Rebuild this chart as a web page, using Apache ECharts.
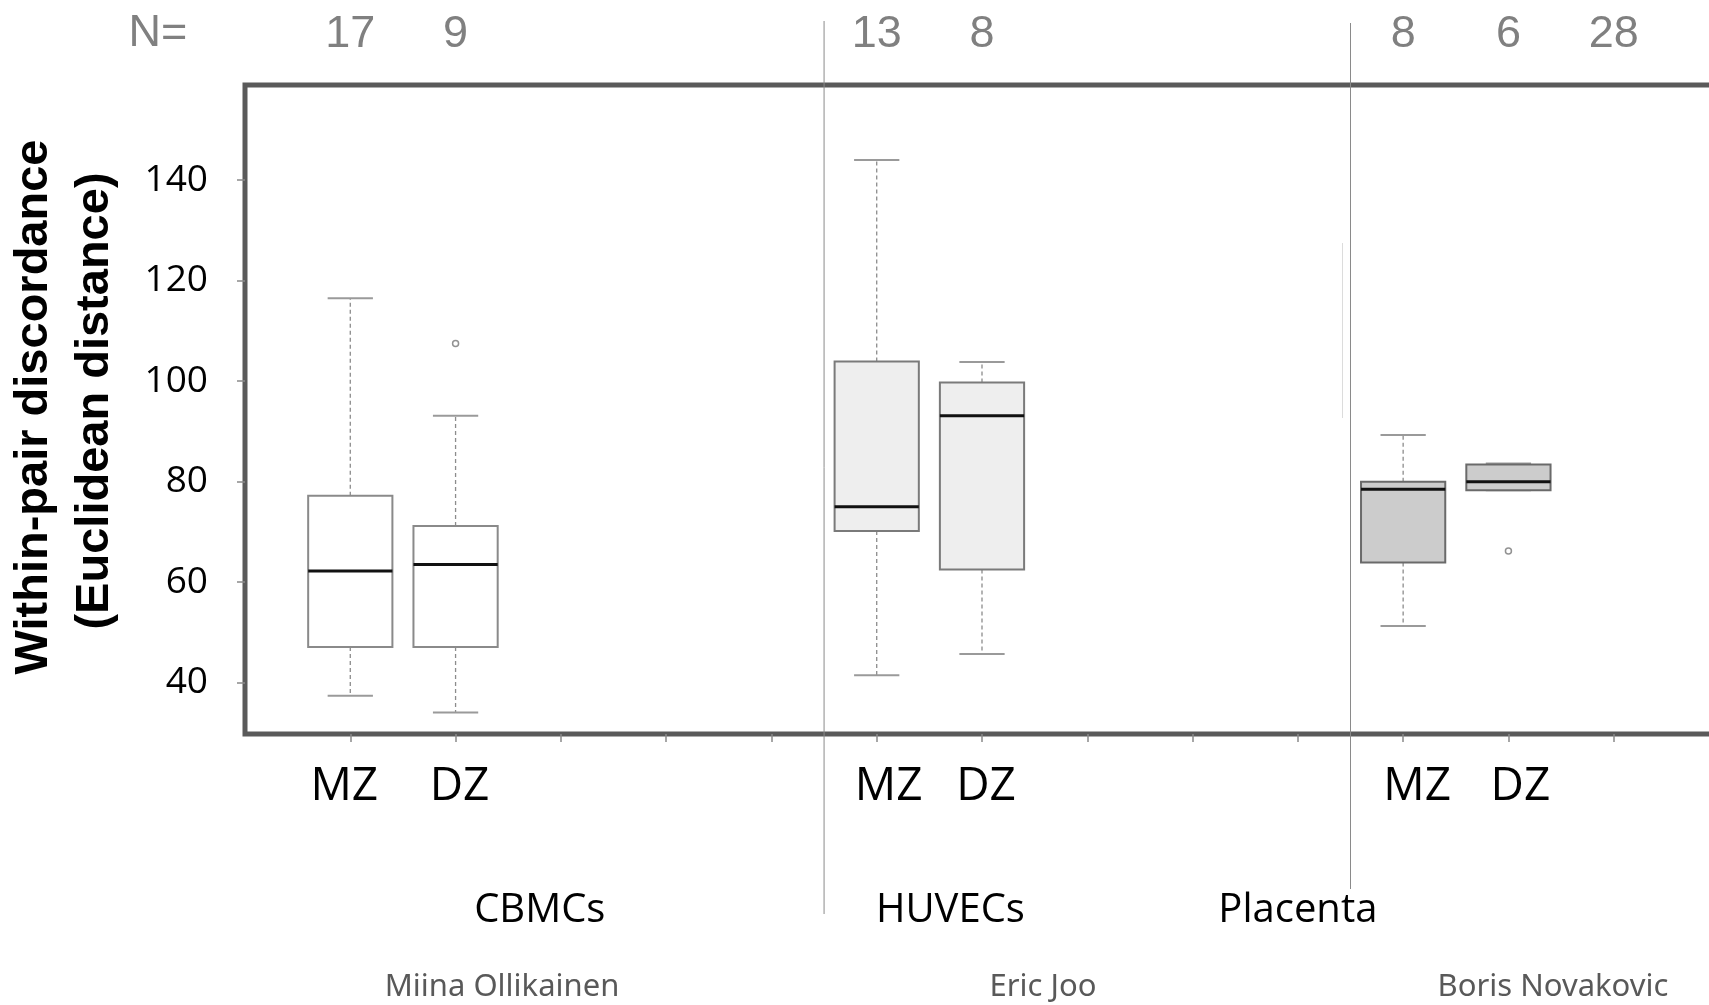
<!DOCTYPE html>
<html><head><meta charset="utf-8">
<script src="https://cdn.jsdelivr.net/npm/echarts@6/dist/echarts.min.js"></script>
<style>html,body{margin:0;padding:0;background:#fff}#c{width:1709px;height:1005px}</style>
</head><body><div id="c"></div>
<script>
// ---------- data ----------
const categories = ['', 'MZ', 'DZ', '', '', '', 'MZ', 'DZ', '', '', '', 'MZ', 'DZ', '', ''];
const nCounts    = ['', '17', '9', '', '', '', '13', '8', '', '', '', '8', '6', '28', ''];
const boxPositions = [1, 2, 6, 7, 11, 12];
const boxGroup     = [0, 0, 1, 1, 2, 2];
const boxMin    = [37.4, 34.1, 41.5, 45.7, 51.3, 78.3];
const boxQ1     = [47.1, 47.1, 70.2, 62.5, 63.9, 78.3];
const boxMedian = [62.2, 63.5, 75.0, 93.1, 78.5, 80.0];
const boxQ3     = [77.2, 71.2, 103.9, 99.7, 80.0, 83.4];
const boxMax    = [116.5, 93.1, 144.0, 103.8, 89.3, 83.6];
const outlierPositions = [2, 12];
const outlierValues    = [107.5, 66.2];
const yTicks = [40, 60, 80, 100, 120, 140];
const groupNames = ['CBMCs', 'HUVECs', 'Placenta'];
const authorNames = ['Miina Ollikainen', 'Eric Joo', 'Boris Novakovic'];
const yTitleLines = ['Within-pair discordance', '(Euclidean distance)'];
const nLabel = 'N=';

// ---------- styles ----------
const groupFill   = ['#ffffff', '#eeeeee', '#cccccc'];
const groupStroke = ['#8a8a8a', '#7a7a7a', '#6a6a6a'];
const labelShift = {1: -6, 2: 4, 6: 12, 7: 4, 11: 14, 12: 12};

const boxData = boxPositions.map((p, i) => [p, boxMin[i], boxQ1[i], boxMedian[i], boxQ3[i], boxMax[i]]);
const outlierData = outlierPositions.map((p, i) => [p, outlierValues[i]]);

const richBottom = {};
Object.keys(labelShift).forEach(k => {
  const s = labelShift[k];
  richBottom['o' + k] = {
    fontFamily: 'Open Sans', fontSize: 46, color: '#000',
    padding: s >= 0 ? [0, 0, 0, 2 * s] : [0, -2 * s, 0, 0]
  };
});

const chart = echarts.init(document.getElementById('c'), null, {renderer: 'canvas'});
const option = {
  animation: false,
  backgroundColor: '#ffffff',
  grid: {
    left: 245, top: 85, width: 1474, bottom: 271,
    outerBoundsMode: 'none', containLabel: false,
    show: true, borderColor: '#5a5a5a', borderWidth: 5, backgroundColor: 'transparent'
  },
  xAxis: [{
    type: 'category', data: categories, boundaryGap: false, position: 'bottom',
    axisLine: {show: false},
    axisTick: {show: true, length: 8, inside: false, interval: (idx) => idx > 0 && idx < categories.length - 1,
               lineStyle: {color: '#8a8a8a', width: 1.5}},
    axisLabel: {
      interval: 0, margin: 30,
      formatter: (v, idx) => v ? '{o' + idx + '|' + v + '}' : '',
      rich: richBottom
    },
    splitLine: {show: false}
  }, {
    type: 'category', data: nCounts, boundaryGap: false, position: 'top',
    axisLine: {show: false}, axisTick: {show: false},
    axisLabel: {interval: 0, margin: 28, fontFamily: 'Liberation Sans', fontSize: 45, color: '#808080'},
    splitLine: {show: false}
  }],
  yAxis: {
    type: 'value', min: 29.8, max: 158.9,
    axisLine: {show: false},
    splitLine: {show: false},
    axisTick: {show: true, length: 8, customValues: yTicks, lineStyle: {color: '#8a8a8a', width: 1.5}},
    axisLabel: {customValues: yTicks, margin: 37, fontFamily: 'Open Sans', fontSize: 37, color: '#000'}
  },
  series: [{
    type: 'custom',
    name: 'boxes',
    clip: false,
    data: boxData,
    encode: {x: 0, y: [1, 2, 3, 4, 5]},
    renderItem: function (params, api) {
      const i = params.dataIndex;
      const x = api.value(0);
      const pMin = api.coord([x, api.value(1)]);
      const pQ1 = api.coord([x, api.value(2)]);
      const pMed = api.coord([x, api.value(3)]);
      const pQ3 = api.coord([x, api.value(4)]);
      const pMax = api.coord([x, api.value(5)]);
      const band = api.coord([x + 1, api.value(1)])[0] - pMin[0];
      const bw = band * 0.8, cw = band * 0.43;
      const cx = pMin[0];
      const g = boxGroup[i];
      const dash = {stroke: '#8c8c8c', lineWidth: 1.3, lineDash: [4, 3]};
      const cap = {stroke: '#9a9a9a', lineWidth: 2};
      return {type: 'group', children: [
        {type: 'line', shape: {x1: cx, y1: pQ3[1], x2: cx, y2: pMax[1]}, style: dash},
        {type: 'line', shape: {x1: cx, y1: pQ1[1], x2: cx, y2: pMin[1]}, style: dash},
        {type: 'line', shape: {x1: cx - cw / 2, y1: pMax[1], x2: cx + cw / 2, y2: pMax[1]}, style: cap},
        {type: 'line', shape: {x1: cx - cw / 2, y1: pMin[1], x2: cx + cw / 2, y2: pMin[1]}, style: cap},
        {type: 'rect', shape: {x: cx - bw / 2, y: pQ3[1], width: bw, height: pQ1[1] - pQ3[1]},
         style: {fill: groupFill[g], stroke: groupStroke[g], lineWidth: 2}},
        {type: 'line', shape: {x1: cx - bw / 2, y1: pMed[1], x2: cx + bw / 2, y2: pMed[1]},
         style: {stroke: '#111111', lineWidth: 3}}
      ]};
    }
  }, {
    type: 'scatter',
    name: 'outliers',
    data: outlierData,
    symbol: 'circle', symbolSize: 6,
    itemStyle: {color: '#ffffff', borderColor: '#777777', borderWidth: 1.5}
  }]
};
chart.setOption(option);

const px = i => chart.convertToPixel({xAxisIndex: 0}, i);
const pxf = f => { const a = Math.floor(f); return px(a) + (f - a) * (px(a + 1) - px(a)); };
const sep1 = pxf(5.5);
const sep2 = pxf(10.5);
const groupX = [pxf(2.8), pxf(6.7), pxf(10.0)];
const authorX = [502, 1043, 1553];

const elems = [
  {type: 'line', z: 100, shape: {x1: sep1, y1: 21, x2: sep1, y2: 914}, style: {stroke: '#8a8a8a', lineWidth: 1}},
  {type: 'line', z: 100, shape: {x1: sep2, y1: 23, x2: sep2, y2: 889}, style: {stroke: '#8a8a8a', lineWidth: 1}},
  {type: 'line', z: 100, shape: {x1: sep2 - 8, y1: 243, x2: sep2 - 8, y2: 418}, style: {stroke: '#dcdcdc', lineWidth: 1}},
  {type: 'text', x: 158, y: 34, style: {text: nLabel, font: '45px "Liberation Sans"', fill: '#808080', align: 'center', verticalAlign: 'middle'}},
  {type: 'text', x: 34, y: 407, rotation: Math.PI / 2,
   style: {text: yTitleLines[0], font: 'bold 47px "Liberation Sans"', fill: '#000', align: 'center', verticalAlign: 'middle'}},
  {type: 'text', x: 95, y: 401, rotation: Math.PI / 2,
   style: {text: yTitleLines[1], font: 'bold 47px "Liberation Sans"', fill: '#000', align: 'center', verticalAlign: 'middle'}}
];
groupNames.forEach((t, k) => elems.push({type: 'text', x: groupX[k], y: 911,
  style: {text: t, font: '40px "Open Sans"', fill: '#000', align: 'center', verticalAlign: 'middle'}}));
authorNames.forEach((t, k) => elems.push({type: 'text', x: authorX[k], y: 987,
  style: {text: t, font: '31px "Noto Sans"', fill: '#595959', align: 'center', verticalAlign: 'middle'}}));
chart.setOption({graphic: {elements: elems}});
</script>
</body></html>
